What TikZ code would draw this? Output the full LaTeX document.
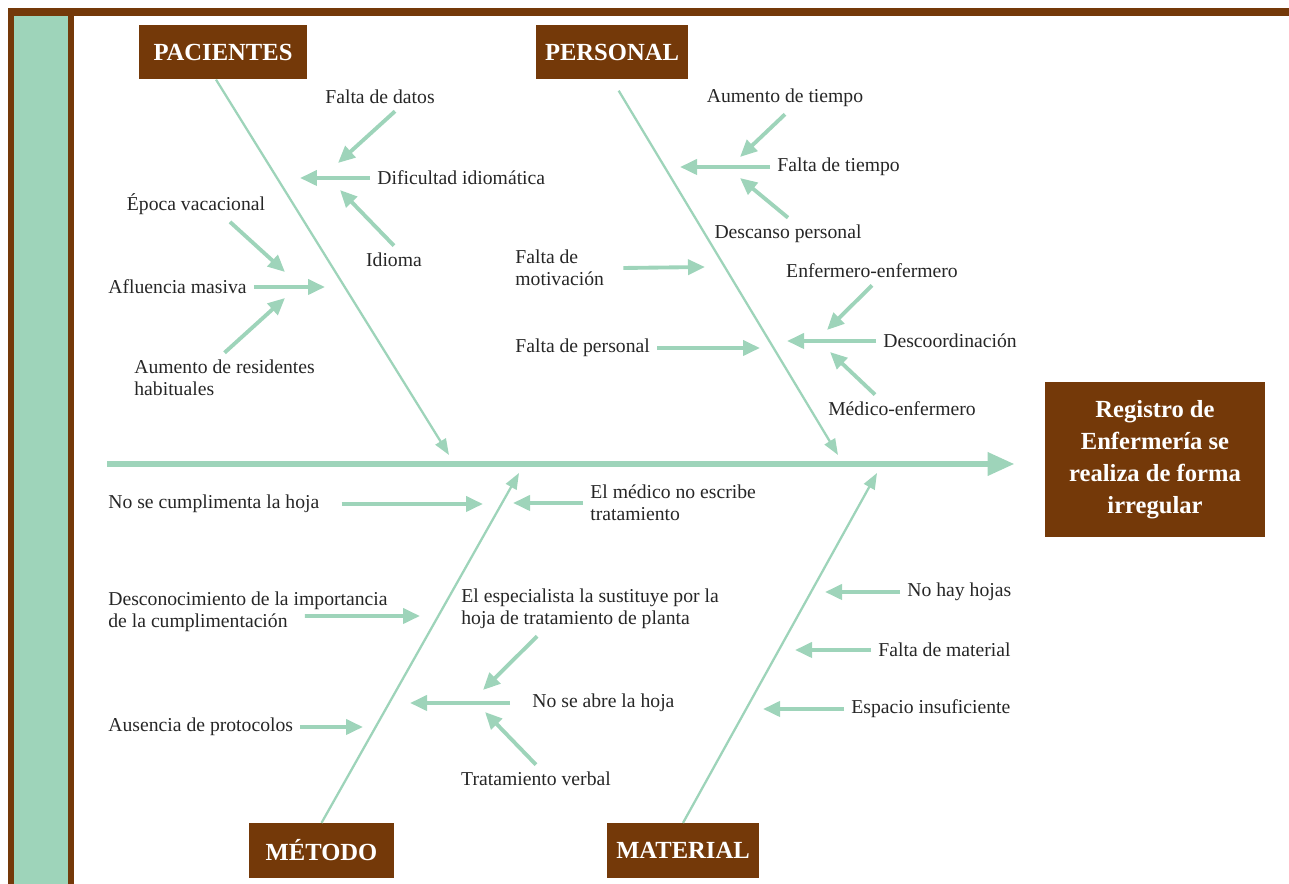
\documentclass[tikz,border=0pt]{standalone}
\usepackage{fontspec}
\setmainfont{Liberation Serif}
\usetikzlibrary{arrows.meta}
\definecolor{cafe}{RGB}{116,57,9}
\definecolor{menta}{RGB}{158,212,186}

\begin{document}
\begin{tikzpicture}[
    x=0.02cm, y=-0.02cm,
    cabecera/.style={rectangle, fill=cafe, text=white, font=\fontsize{14}{18}\selectfont\bfseries, minimum height=1.09cm, inner sep=0pt},
    efecto/.style={rectangle, fill=cafe, text=white, font=\fontsize{14}{18.2}\selectfont\bfseries, align=center, minimum width=4.4cm, minimum height=3.1cm},
    causa/.style={font=\fontsize{11.2}{12.5}\selectfont, text=black!85, align=left, inner sep=4pt},
    flecha/.style={menta, line width=2.2pt, -{Triangle[length=0.34cm, width=0.3cm]}},
    espina/.style={menta, line width=1.3pt, -{Triangle[length=0.32cm, width=0.24cm]}},
    eje/.style={menta, line width=3.6pt, -{Triangle[length=0.54cm, width=0.44cm]}}
]
    \useasboundingbox (0,0) rectangle (1289,884);
    \fill[cafe] (8,8) rectangle (1289,16);
    \fill[cafe] (8,8) rectangle (74,884);
    \fill[menta] (14,16) rectangle (68,884);

    % cabeza y espina central
    \node[efecto] (problema) at (1155,459.5) {Registro de\\Enfermería se\\realiza de forma\\irregular};
    \coordinate (cola) at (107,464);
    \draw[eje, shorten >=0.6cm] (cola) -- (cola -| problema.west);

    % categorías
    \node[cabecera, minimum width=3.36cm] (pacientes) at (223,52) {PACIENTES};
    \node[cabecera, minimum width=3.04cm] (personal) at (612,52) {PERSONAL};
    \node[cabecera, minimum width=2.9cm] (metodo) at (321.5,850.5) {MÉTODO};
    \node[cabecera, minimum width=3.04cm] (material) at (683,850.5) {MATERIAL};

    \coordinate (pacientesfin) at (449,455);
    \coordinate (personalfin) at (838,455);
    \coordinate (metodofin) at (519,473);
    \coordinate (materialfin) at (877,473);
    \draw[espina] ([xshift=-0.14cm]pacientes.south) -- (pacientesfin);
    \draw[espina, shorten <=0.26cm] (personal.south) -- (personalfin);
    \draw[espina] (metodo.north) -- (metodofin);
    \draw[espina] (material.north) -- (materialfin);

    % PACIENTES
    \node[causa] (datos) at (380,97) {Falta de datos};
    \node[causa, anchor=west] (dificultad) at (370,178) {Dificultad idiomática};
    \node[causa] (idioma) at (394,260) {Idioma};
    \node[causa] (epoca) at (196,204) {Época vacacional};
    \node[causa, anchor=west] (afluencia) at (101,287) {Afluencia masiva};
    \node[causa, anchor=west] (residentes) at (127,378) {Aumento de residentes\\habituales};
    \coordinate (d1) at (338,163);
    \coordinate (d0) at (300,178);
    \coordinate (d2) at (340,190);
    \coordinate (p1) at (285,272);
    \coordinate (p0) at (325,287);
    \coordinate (p2) at (285,298);
    \draw[flecha] ([xshift=0.3cm]datos.south) -- (d1);
    \draw[flecha] (dificultad.west) -- (d0);
    \draw[flecha] (idioma.north) -- (d2);
    \draw[flecha] ([xshift=0.68cm]epoca.south) -- (p1);
    \draw[flecha] (afluencia.east) -- (p0);
    \draw[flecha] (residentes.north) -- (p2);

    % PERSONAL
    \node[causa] (aumento) at (785,98) {Aumento de tiempo};
    \node[causa, anchor=west] (faltatiempo) at (770,167) {Falta de tiempo};
    \node[causa] (descanso) at (788,234) {Descanso personal};
    \node[causa, anchor=west] (motivacion) at (508,268) {Falta de\\motivación};
    \node[causa] (enfermero) at (872,271) {Enfermero-enfermero};
    \node[causa, anchor=west] (descoord) at (876,341) {Descoordinación};
    \node[causa] (medico) at (902,409) {Médico-enfermero};
    \node[causa, anchor=west] (faltapersonal) at (508,348) {Falta de personal};
    \coordinate (t1) at (740,157);
    \coordinate (t0) at (680,167);
    \coordinate (t2) at (740,178);
    \coordinate (m0) at (705,267);
    \coordinate (c1) at (827,330);
    \coordinate (c0) at (787,341);
    \coordinate (c2) at (830,352);
    \coordinate (f0) at (760,348);
    \draw[flecha] (aumento.south) -- (t1);
    \draw[flecha] (faltatiempo.west) -- (t0);
    \draw[flecha] (descanso.north) -- (t2);
    \draw[flecha] ([xshift=0.24cm]motivacion.east) -- (m0);
    \draw[flecha] (enfermero.south) -- (c1);
    \draw[flecha] (descoord.west) -- (c0);
    \draw[flecha] ([xshift=-0.54cm]medico.north) -- (c2);
    \draw[flecha] (faltapersonal.east) -- (f0);

    % MÉTODO
    \node[causa, anchor=west] (nocumple) at (101,504) {No se cumplimenta la hoja};
    \node[causa, anchor=west] (noescribe) at (583,503) {El médico no escribe\\tratamiento};
    \node[causa, anchor=west] (desconoc) at (101,612) {Desconocimiento de la importancia\\de la cumplimentación};
    \node[causa, anchor=west] (especialista) at (454,609) {El especialista la sustituye por la\\hoja de tratamiento de planta};
    \node[causa, anchor=west] (noabre) at (525,703) {No se abre la hoja};
    \node[causa] (verbal) at (536,779) {Tratamiento verbal};
    \node[causa, anchor=west] (protocolos) at (101,727) {Ausencia de protocolos};
    \coordinate (n0) at (483,504);
    \coordinate (e0) at (513,503);
    \coordinate (k0) at (420,616);
    \coordinate (s1) at (483,690);
    \coordinate (a0) at (410,703);
    \coordinate (v1) at (485,712);
    \coordinate (u0) at (363,727);
    \draw[flecha] ([xshift=0.3cm]nocumple.east) -- (n0);
    \draw[flecha] (noescribe.west) -- (e0);
    \draw[flecha] ([xshift=-1.8cm, yshift=-0.08cm]desconoc.east) -- (k0);
    \draw[flecha] ([xshift=-1.06cm]especialista.south) -- (s1);
    \draw[flecha] ([xshift=-0.3cm]noabre.west) -- (a0);
    \draw[flecha] (verbal.north) -- (v1);
    \draw[flecha] (protocolos.east) -- (u0);

    % MATERIAL
    \node[causa, anchor=west] (nohay) at (900,592) {No hay hojas};
    \node[causa, anchor=west] (faltamat) at (871,650) {Falta de material};
    \node[causa, anchor=west] (espacio) at (844,709) {Espacio insuficiente};
    \coordinate (h0) at (825,592);
    \coordinate (r0) at (795,650);
    \coordinate (i0) at (763,709);
    \draw[flecha] (nohay.west) -- (h0);
    \draw[flecha] (faltamat.west) -- (r0);
    \draw[flecha] (espacio.west) -- (i0);
\end{tikzpicture}
\end{document}
